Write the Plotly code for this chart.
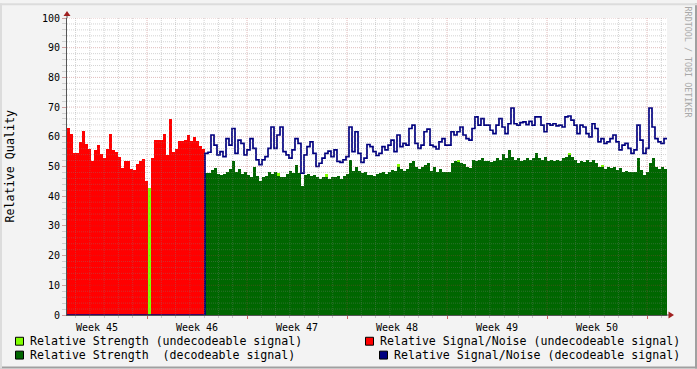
import plotly.graph_objects as go

# ---------------- canvas geometry ----------------
W, H = 697, 369
L, R, T, B = 67, 30, 15, 54
PW, PH = W - L - R, H - T - B

# ---------------- data ----------------
days_span = 42.0           # six weeks shown
n_samples = 200
n_undec = 46               # samples before the switch to decodeable signal
week_labels = ["Week 45", "Week 46", "Week 47", "Week 48", "Week 49", "Week 50"]
first_week_end = 5.6       # day offset where Week 45 ends / Week 46 begins

# Relative Signal/Noise (undecodeable signal)
snr_undec = [63, 61, 54.5, 54.5, 58.3, 62, 57.5, 56, 52, 55.5,
             57.2, 54.2, 53, 56, 61, 55.5, 55, 53.3, 49.5, 52,
             52, 49, 48.7, 51, 52, 52.5, 45, None, 53, 59,
             59, 59, 61, 54, 66, 55, 56, 58.5, 58.5, 59,
             60.5, 58.5, 60, 58.5, 57, 56]

# Relative Strength (undecodeable signal) - only visible samples
strength_undec_idx = [27, 70, 86, 110, 130, 167, 178]
strength_undec_val = [42.7, 47.8, 47.5, 51.0, 52.3, 54.6, 50.5]

# Relative Strength (decodeable signal)
strength_dec = [47.8, 47.8, 48.9, 49.4, 47.4, 47, 47.4, 48.3, 49.2, 51.9,
                48.3, 49.2, 47.4, 48.3, 47, 46.3, 49.7, 46.7, 45.2, 46.3,
                46.7, 48.1, 47.4, 48.3, 46.7, 46.3, 46.3, 47.4, 48.6, 47.8,
                50.6, 47.8, 43.5, 47.2, 47.4, 46.7, 47, 46.3, 45.9, 46.3,
                46.3, 45.9, 46.3, 46.3, 46.7, 45.9, 46.7, 47.4, 52.2, 48.6,
                49.7, 48.6, 47.8, 48.1, 47, 47.2, 46.7, 47.4, 47.8, 48.1,
                47.4, 48.3, 48.9, 48.6, 50, 49.2, 48.6, 49.2, 51.1, 51.7,
                49.7, 49.2, 49.7, 50.6, 51.1, 48.6,
                50, 48.3, 49.2, 48.3, 48.3, 48.1, 51.1, 51.7, 51.4, 51.1,
                50.8, 50, 49.4, 52.2, 51.9, 52.2, 52.8, 51.9, 51.7, 51.4,
                51.7, 52.8, 52.2, 54.1, 52.8, 55.6, 53.3, 52.2, 53, 51.9,
                52.2, 52.8, 52.2, 52.8, 54.4, 52.8, 52.2, 53.3, 51.7, 52.2,
                51.9, 52.2, 51.9, 52.8, 53.3, 53.9, 53.3, 52.2, 51.1, 51.9,
                51.4, 52.2, 51.4, 52.2, 51.1, 50, 49.7, 49.2, 49.7, 49.4,
                50, 48.9, 49.4, 48.3, 48.6, 48.3, 48.1, 48.3, 52.8, 48.9,
                47.2, 48.3, 51.1, 53, 50, 49.2, 49.7, 49.2]

# Relative Signal/Noise (decodeable signal)
snr_dec = [54.4, 54.8, 60.6, 57.2, 53.9, 55, 53.3, 59.4, 57.2, 62.8,
           54.4, 58.9, 57.8, 53.9, 55.6, 59.4, 56.1, 52.2, 50.6, 52.2,
           53.3, 56.1, 63.3, 56.1, 60.6, 63.3, 55, 53.9, 52.8, 55.6,
           59.4, 57.8, 47.8, 53.9, 56.7, 58.3, 54.4, 50, 51.1, 52.8,
           54.4, 55.2, 53.3, 55.6, 51.7, 51.4, 52.2, 53.3, 63.3, 55,
           61.7, 54.4, 51.4, 52.8, 57.4, 56.7, 55, 53.7, 54.4, 56.7,
           55.6, 57.2, 58.9, 55, 60.6, 56.7, 57.8, 57.2, 62.8, 63.9,
           57.8, 56.1, 57.2, 61.7, 62.6, 57.2,
           56.7, 55.9, 58.3, 59.4, 57.2, 57.2, 61.7, 60.6, 61.7, 63.3,
           60.6, 59.4, 58.9, 62.8, 66.7, 63.9, 66.1, 63.9, 63.9, 62.2,
           61.1, 63.9, 66.1, 63.3, 61.1, 64.4, 69.7, 64.4, 63.9, 64.8,
           65, 64.1, 65.2, 63.9, 66.7, 66.7, 63.9, 61.7, 64.4, 63.9,
           64.4, 63.7, 63.9, 63.3, 66.7, 67, 65.6, 63.9, 61.1, 63.9,
           63.3, 61.1, 60, 64.4, 62.8, 58.3, 59.4, 57.8, 58.3, 59.4,
           60.6, 58.3, 55.6, 57.2, 57.8, 56.1, 54.4, 55.6, 63.9, 58.9,
           54.4, 56.1, 69.7, 63.3, 59.4, 58.3, 57.8, 59.4]

# ---------------- derived series ----------------
step = days_span / n_samples
x_left = [i * step for i in range(n_samples)]
x_mid = [x + step / 2 for x in x_left]
n_dec = n_samples - n_undec

red_full = snr_undec + [None] * n_dec
green_full = [None] * n_undec + strength_dec
lime_full = [None] * n_samples
for i, v in zip(strength_undec_idx, strength_undec_val):
    lime_full[i] = v
blue_full = [0] * n_undec + snr_dec
blue_x = x_left + [days_span]
blue_y = blue_full + [blue_full[-1]]

C_LIME, C_RED, C_GREEN, C_NAVY = "#80FF00", "#FF0000", "#006600", "#000080"
FONT = "DejaVu Sans Mono"

fig = go.Figure()
for vals, col in [(lime_full, C_LIME), (red_full, C_RED), (green_full, C_GREEN)]:
    fig.add_trace(go.Bar(x=x_mid, y=vals, width=step, marker=dict(color=col, line=dict(width=0)),
                         hoverinfo="skip"))
fig.add_trace(go.Scatter(x=blue_x, y=blue_y, mode="lines", line=dict(color=C_NAVY, width=1.7, shape="hv"),
                         cliponaxis=False, hoverinfo="skip"))

def pxx(x):
    return (x - L) / PW

def pxy(y):
    return (H - B - y) / PH

MIN_GRID = "rgba(128,128,128,0.35)"
MAJ_GRID = "rgba(170,60,60,0.35)"
DASH = "1px,1px"

shapes = []
# horizontal grid
for v in range(2, 101, 2):
    shapes.append(dict(type="line", xref="x", yref="y", x0=0, x1=days_span, y0=v, y1=v, layer="above",
                       line=dict(color=MAJ_GRID if v % 10 == 0 else MIN_GRID, width=1, dash=DASH)))
# vertical grid (days, weeks)
week_ends = [first_week_end + 7 * k for k in range(len(week_labels))]
d = first_week_end % 1
while d < days_span:
    is_major = any(abs(d - w) < 1e-6 for w in week_ends)
    shapes.append(dict(type="line", xref="x", yref="y", x0=d, x1=d, y0=0, y1=100, layer="above",
                       line=dict(color=MAJ_GRID if is_major else MIN_GRID, width=1, dash=DASH)))
    d += 1

AX = "#555555"
ARROW = "#A02020"
# axis extensions + arrows
shapes += [
    dict(type="path", xref="paper", yref="paper", xsizemode="pixel", ysizemode="pixel", xanchor=0, yanchor=1,
         path="M0,0 L0,3", line=dict(color=AX, width=1), layer="above"),
    dict(type="path", xref="paper", yref="paper", xsizemode="pixel", ysizemode="pixel", xanchor=0, yanchor=1,
         path="M-3.5,2 L3.5,2 L0,7 Z", fillcolor=ARROW, line=dict(width=0), layer="above"),
    dict(type="path", xref="paper", yref="paper", xsizemode="pixel", ysizemode="pixel", xanchor=1, yanchor=0,
         path="M0,0 L2,0", line=dict(color=AX, width=1), layer="above"),
    dict(type="path", xref="paper", yref="paper", xsizemode="pixel", ysizemode="pixel", xanchor=1, yanchor=0,
         path="M1.5,-3.5 L1.5,3.5 L7,0 Z", fillcolor=ARROW, line=dict(width=0), layer="above"),
]
# frame shading
shapes += [
    dict(type="line", xref="paper", yref="paper", x0=pxx(0), x1=pxx(W), y0=pxy(H - 1), y1=pxy(H - 1),
         line=dict(color="#A0A0A0", width=2)),
    dict(type="line", xref="paper", yref="paper", x0=pxx(W - 1), x1=pxx(W - 1), y0=pxy(0), y1=pxy(H),
         line=dict(color="#A0A0A0", width=2)),
    dict(type="line", xref="paper", yref="paper", x0=pxx(0), x1=pxx(W), y0=pxy(1), y1=pxy(1),
         line=dict(color="#DCDCDC", width=2)),
    dict(type="line", xref="paper", yref="paper", x0=pxx(1), x1=pxx(1), y0=pxy(0), y1=pxy(H),
         line=dict(color="#DCDCDC", width=2)),
]

annotations = []
legend_items = [
    (15, 337, C_LIME, 30, "Relative Strength (undecodeable signal)"),
    (365, 337, C_RED, 380, "Relative Signal/Noise (undecodeable signal)"),
    (15, 351, C_GREEN, 30, "Relative Strength\u00a0 (decodeable signal)"),
    (379, 351, C_NAVY, 394, "Relative Signal/Noise (decodeable signal)"),
]
for bx, by, col, tx, txt in legend_items:
    shapes.append(dict(type="rect", xref="paper", yref="paper", x0=pxx(bx + 0.5), x1=pxx(bx + 8.5),
                       y0=pxy(by + 0.5), y1=pxy(by + 8.5), fillcolor=col, line=dict(color="#000000", width=1)))
    annotations.append(dict(xref="paper", yref="paper", x=pxx(tx - 2), y=pxy(by + 4.5), text=txt, showarrow=False,
                            xanchor="left", yanchor="middle", font=dict(family=FONT, size=11.6, color="#000")))

annotations.append(dict(xref="paper", yref="paper", x=pxx(10.5), y=pxy(164.5), text="Relative Quality",
                        showarrow=False, textangle=-90, xanchor="center", yanchor="middle",
                        font=dict(family=FONT, size=11.7, color="#000")))
annotations.append(dict(xref="paper", yref="paper", x=pxx(687.5), y=pxy(59.5), text="RRDTOOL / TOBI OETIKER",
                        showarrow=False, textangle=90, xanchor="center", yanchor="middle",
                        font=dict(family=FONT, size=8.4, color="#A8A8A8")))

fig.update_layout(
    width=W, height=H, margin=dict(l=L, r=R, t=T, b=B, pad=0),
    paper_bgcolor="#F3F3F3", plot_bgcolor="#FFFFFF",
    barmode="overlay", bargap=0, showlegend=False,
    font=dict(family=FONT, size=10, color="#000"),
    shapes=shapes, annotations=annotations,
    xaxis=dict(range=[0, days_span], tickmode="array", tickvals=week_ends, ticktext=week_labels,
               ticklabelshift=int(round(-PW / days_span * 3.5)), showgrid=False, zeroline=False,
               ticks="outside", ticklen=3, tickcolor="#D06060", tickwidth=1,
               showline=True, linecolor=AX, linewidth=1, layer="above traces",
               minor=dict(tick0=first_week_end % 1, dtick=1, ticks="outside", ticklen=2,
                          tickcolor="#C8C8C8", showgrid=False),
               fixedrange=True),
    yaxis=dict(range=[0, 100], tickmode="array", tickvals=list(range(0, 101, 10)), showgrid=False,
               zeroline=False, ticks="outside", ticklen=4, tickcolor="#D0A0A0", tickwidth=1,
               showline=True, linecolor=AX, linewidth=1, layer="above traces",
               minor=dict(tick0=0, dtick=2, ticks="outside", ticklen=4, tickcolor="#D0D0D0", showgrid=False),
               fixedrange=True),
)

fig.write_html("out.html")
